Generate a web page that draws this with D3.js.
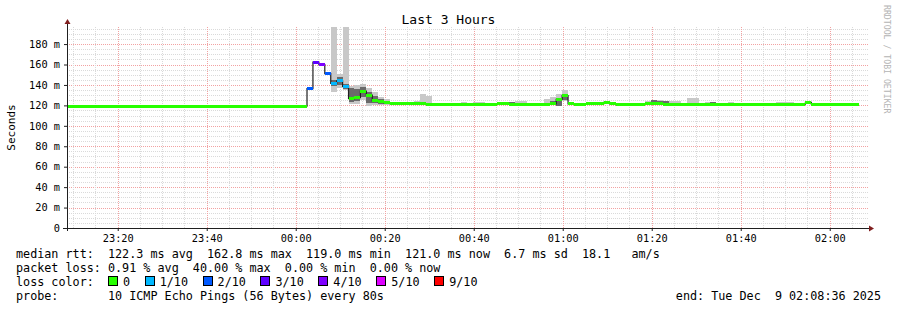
<!DOCTYPE html>
<html>
<head>
<meta charset="utf-8">
<script src="https://cdn.jsdelivr.net/npm/d3@7/dist/d3.min.js"></script>
<style>
  body { margin: 0; background: #fff; }
  svg text { font-family: "DejaVu Sans Mono", monospace; fill: #000; }
</style>
</head>
<body>
<div id="chart"></div>
<script>
// ---- data (one value per 80 s step) ----
const viewStart = "2025-12-08T23:08:36";
const viewEnd = "2025-12-09T02:08:36";
const firstStep = "2025-12-08T23:07:52";
const stepSec = 80;

// median rtt in ms
const median = [
  119.3, 119.3, 119.3, 119.3, 119.3, 119.3, 119.3, 119.3, 119.3, 119.3,
  119.3, 119.3, 119.3, 119.3, 119.3, 119.3, 119.3, 119.3, 119.3, 119.3,
  119.3, 119.3, 119.3, 119.3, 119.3, 119.3, 119.3, 119.3, 119.3, 119.3,
  119.3, 119.3, 119.3, 119.3, 119.3, 119.3, 119.3, 119.3, 119.3, 119.3,
  119.3,
  136.3, 162.4, 159.8, 151.0, 141.5, 144.0, 138.5, 126.5, 127.5, 134.0,
  130.0, 124.5, 123.5, 122.5,
  121.6, 121.5, 121.5, 121.4, 121.5, 121.4, 121.3, 121.2, 121.0, 121.0,
  121.0, 121.2, 121.2, 121.2, 121.3, 121.3, 121.2, 121.2, 121.4, 121.6,
  121.3, 121.2, 121.2, 121.2, 121.2, 121.0, 121.2, 121.5, 126.0, 129.5,
  121.5, 121.3, 121.3, 121.4, 121.4, 121.5, 123.0, 121.5, 120.8, 120.8,
  121.2, 121.3, 121.3, 121.5, 122.0, 121.6, 121.3, 121.3, 121.3, 121.2,
  121.2, 121.2, 121.2, 121.3, 121.3, 121.2, 121.2, 121.3, 121.2, 121.2,
  121.2, 121.2, 121.2, 121.2, 121.3, 121.3, 121.3, 121.2, 121.2, 121.2,
  123.0, 121.3, 120.8, 120.8, 120.8, 120.8, 121.0, 121.0, 121.0
];

// steps with packet loss (n of 10), all others 0
const lossStep = [41, 42, 43, 44, 45, 46, 47];
const lossVal  = [2, 3, 4, 2, 1, 1, 1];

// outer smoke (spread of the 10 pings)
const smokeStep = [45, 46, 47, 48, 49, 50, 51, 52, 53, 54, 55, 59, 60, 61, 67, 69, 70, 71, 73, 74,
                   75, 76, 77, 81, 82, 83, 84, 85, 88, 89, 90, 98, 99, 100, 101, 102, 103, 105, 106,
                   108, 109, 112, 120, 121, 122];
const smokeLo = [133.5, 137, 135, 121, 121, 125, 119.5, 120.5, 120.5, 120.5, 120.8, 121, 121, 121, 121, 121, 121, 121, 121, 121,
                 121, 121, 121, 121, 121, 121.5, 124, 120.5, 121, 121, 121, 121, 121, 121, 121, 121, 121, 121, 121,
                 121, 121, 121, 121, 121, 121];
const smokeHi = [200, 151, 200, 139, 140, 141, 137, 133, 128, 126, 123.5, 124.5, 131, 129.5, 123, 123, 123, 122.8, 123.5, 123.5,
                 123, 124, 124, 126, 128.5, 131, 135.5, 122.5, 123, 123, 123, 124.5, 125.5, 125.5, 124.5, 124.5, 124, 127, 127,
                 123, 123.5, 123.5, 123, 123, 123];

// inner (darker) smoke
const coreStep = [45, 46, 47, 48, 49, 50, 51, 52, 53, 54, 73, 74, 75, 82, 83, 84, 99, 100, 101, 109];
const coreLo = [139, 140, 136, 123, 124, 128, 122, 122, 121.5, 121, 121, 121.2, 121, 121.5, 119.5, 125, 122, 122, 122, 121.5];
const coreHi = [145, 148, 141, 137, 136, 138, 133, 129, 126, 124, 122.8, 123, 123, 124, 127, 131, 125, 124.5, 124, 123];

const lossLabels = ["0", "1/10", "2/10", "3/10", "4/10", "5/10", "9/10"];
const lossLevels = [0, 1, 2, 3, 4, 5, 9];
const lossColors = ["#26ff00", "#00b8ff", "#0059ff", "#5e00ff", "#7e00ff", "#dd00ff", "#ff0000"];

const yTicks = [0, 20, 40, 60, 80, 100, 120, 140, 160, 180];
const title = "Last 3 Hours";
const yTitle = "Seconds";
const legendLines = [
  "median rtt:  122.3 ms avg  162.8 ms max  119.0 ms min  121.0 ms now  6.7 ms sd  18.1   am/s",
  "packet loss: 0.91 % avg  40.00 % max  0.00 % min  0.00 % now",
  "loss color:",
  "probe:       10 ICMP Echo Pings (56 Bytes) every 80s"
];
const endLabel = "end: Tue Dec  9 02:08:36 2025";
const watermark = "RRDTOOL / TOBI OETIKER";

// ---- layout ----
const W = 897, H = 310;
const margin = {top: 27, left: 67, right: 29, bottom: 82};
const width = W - margin.left - margin.right,
      height = H - margin.top - margin.bottom;

const parseT = d3.timeParse("%Y-%m-%dT%H:%M:%S");
const t0 = parseT(firstStep);

const steps = median.map((m, i) => ({
  t: new Date(+t0 + i * stepSec * 1000),
  t1: new Date(+t0 + (i + 1) * stepSec * 1000),
  median: m,
  loss: 0
}));
lossStep.forEach((s, j) => steps[s].loss = lossVal[j]);

function lossColor(l) {
  let c = lossColors[0];
  lossLevels.forEach((lv, i) => { if (l >= lv) c = lossColors[i]; });
  return c;
}

const svg = d3.select("#chart")
  .append("svg")
  .attr("width", W)
  .attr("height", H);

svg.append("rect").attr("width", W).attr("height", H).attr("fill", "#fff");

svg.append("clipPath")
  .attr("id", "clip")
  .append("rect")
  .attr("width", width)
  .attr("height", height);

const gr = svg.append("g")
  .attr("transform", "translate(" + margin.left + "," + margin.top + ")");

const xScale = d3.scaleTime()
  .domain([parseT(viewStart), parseT(viewEnd)])
  .range([0, width]);

const yScale = d3.scaleLinear()
  .domain([0, 196.7])
  .range([height, 0]);

const px = v => Math.round(v) + 0.5;

// grid
const minorT = d3.timeMinute.every(5).range(xScale.domain()[0], xScale.domain()[1]);
const majorT = d3.timeMinute.every(20).range(xScale.domain()[0], xScale.domain()[1]);
const isMajorT = t => t.getMinutes() % 20 === 0;
const minorY = d3.range(5, 200, 5);

const grid = gr.append("g").attr("shape-rendering", "crispEdges");
grid.selectAll(".hminor")
  .data(minorY)
  .join("line")
  .attr("x1", 0).attr("x2", width)
  .attr("y1", d => px(yScale(d))).attr("y2", d => px(yScale(d)))
  .attr("stroke", d => d % 20 === 0 ? "#f2a2a2" : "#dadada")
  .attr("stroke-dasharray", "1,1");
grid.selectAll(".vminor")
  .data(minorT)
  .join("line")
  .attr("y1", 0).attr("y2", height)
  .attr("x1", d => px(xScale(d))).attr("x2", d => px(xScale(d)))
  .attr("stroke", d => isMajorT(d) ? "#f2a2a2" : "#dadada")
  .attr("stroke-dasharray", "1,1");

const plot = gr.append("g").attr("clip-path", "url(#clip)");

// smoke
plot.append("g").selectAll("rect")
  .data(smokeStep.map((s, j) => ({s: steps[s], lo: smokeLo[j], hi: smokeHi[j]})))
  .join("rect")
  .attr("x", d => xScale(d.s.t))
  .attr("width", d => xScale(d.s.t1) - xScale(d.s.t))
  .attr("y", d => yScale(d.hi))
  .attr("height", d => yScale(d.lo) - yScale(d.hi))
  .attr("fill", "#c8c8c8")
  .attr("shape-rendering", "crispEdges");

plot.append("g").selectAll("rect")
  .data(coreStep.map((s, j) => ({s: steps[s], lo: coreLo[j], hi: coreHi[j]})))
  .join("rect")
  .attr("x", d => xScale(d.s.t))
  .attr("width", d => xScale(d.s.t1) - xScale(d.s.t))
  .attr("y", d => yScale(d.hi))
  .attr("height", d => yScale(d.lo) - yScale(d.hi))
  .attr("fill", "#6a6a6a")
  .attr("shape-rendering", "crispEdges");

// median line
const linePts = steps.map(d => [d.t, d.median]);
linePts.push([steps[steps.length - 1].t1, steps[steps.length - 1].median]);
const line = d3.line()
  .x(d => xScale(d[0]))
  .y(d => yScale(d[1]))
  .curve(d3.curveStepAfter);
plot.append("path")
  .datum(linePts)
  .attr("d", line)
  .attr("fill", "none")
  .attr("stroke", "#202020")
  .attr("stroke-width", 1.2);

// loss-coloured median bands
plot.append("g").selectAll("rect")
  .data(steps)
  .join("rect")
  .attr("x", d => xScale(d.t))
  .attr("width", d => xScale(d.t1) - xScale(d.t))
  .attr("y", d => yScale(d.median) - 1.5)
  .attr("height", 3)
  .attr("fill", d => lossColor(d.loss))
  .attr("shape-rendering", "crispEdges");

// axes
const yAxis = d3.axisLeft(yScale)
  .tickValues(yTicks)
  .tickFormat(d => d === 0 ? "0" : d + " m")
  .tickSize(3)
  .tickPadding(4);
const yAxGr = gr.append("g").call(yAxis);
yAxGr.select(".domain").remove();
yAxGr.selectAll("text").attr("font-size", 10.3).attr("font-family", "DejaVu Sans Mono");
yAxGr.selectAll("line").attr("stroke", "#1f1f1f");

const xAxis = d3.axisBottom(xScale)
  .tickValues(majorT)
  .tickFormat(d3.timeFormat("%H:%M"))
  .tickSize(3)
  .tickPadding(3);
const xAxGr = gr.append("g")
  .attr("transform", "translate(0," + height + ")")
  .call(xAxis);
xAxGr.select(".domain").remove();
xAxGr.selectAll("text").attr("font-size", 10.3).attr("font-family", "DejaVu Sans Mono")
  .attr("dy", null).attr("y", 13.5);
xAxGr.selectAll("line").attr("stroke", "#1f1f1f");

// axis lines + arrows
gr.append("line")
  .attr("x1", -4).attr("x2", width + 2)
  .attr("y1", height + 0.5).attr("y2", height + 0.5)
  .attr("stroke", "#1f1f1f");
gr.append("line")
  .attr("x1", 0.5).attr("x2", 0.5)
  .attr("y1", height + 3).attr("y2", -5)
  .attr("stroke", "#1f1f1f");
gr.append("path")
  .attr("d", `M${width + 6},${height + 0.5} L${width + 1},${height - 2.5} L${width + 1},${height + 3.5} Z`)
  .attr("fill", "#801f1f");
gr.append("path")
  .attr("d", `M0.5,-8 L-2.5,-3 L3.5,-3 Z`)
  .attr("fill", "#801f1f");

// titles
svg.append("text")
  .attr("x", W / 2).attr("y", 24)
  .attr("text-anchor", "middle")
  .attr("font-size", 13)
  .text(title);

svg.append("text")
  .attr("transform", "translate(15," + (margin.top + height / 2) + ") rotate(-90)")
  .attr("text-anchor", "middle")
  .attr("font-size", 11)
  .text(yTitle);

svg.append("text")
  .attr("transform", "translate(884,5) rotate(90)")
  .attr("font-size", 8.2)
  .style("fill", "#b4b4b4")
  .text(watermark);

// legend
const legendY = [258, 272, 286, 300];
svg.selectAll(".leg")
  .data(legendLines)
  .join("text")
  .attr("x", 16)
  .attr("y", (d, i) => legendY[i])
  .attr("font-size", 11.75)
  .style("white-space", "pre")
  .text(d => d);

svg.append("text")
  .attr("x", 881).attr("y", legendY[3])
  .attr("text-anchor", "end")
  .attr("font-size", 11.75)
  .style("white-space", "pre")
  .text(endLabel);

let cursor = 108;
lossLabels.forEach((lab, i) => {
  svg.append("rect")
    .attr("x", cursor + 0.5).attr("y", legendY[2] - 9.5)
    .attr("width", 9).attr("height", 9)
    .attr("fill", lossColors[i])
    .attr("stroke", "#000")
    .attr("shape-rendering", "crispEdges");
  const t = svg.append("text")
    .attr("x", cursor + 15).attr("y", legendY[2])
    .attr("font-size", 11.75)
    .text(lab);
  cursor = cursor + 15 + t.node().getComputedTextLength() + 14.6;
});
</script>
</body>
</html>
